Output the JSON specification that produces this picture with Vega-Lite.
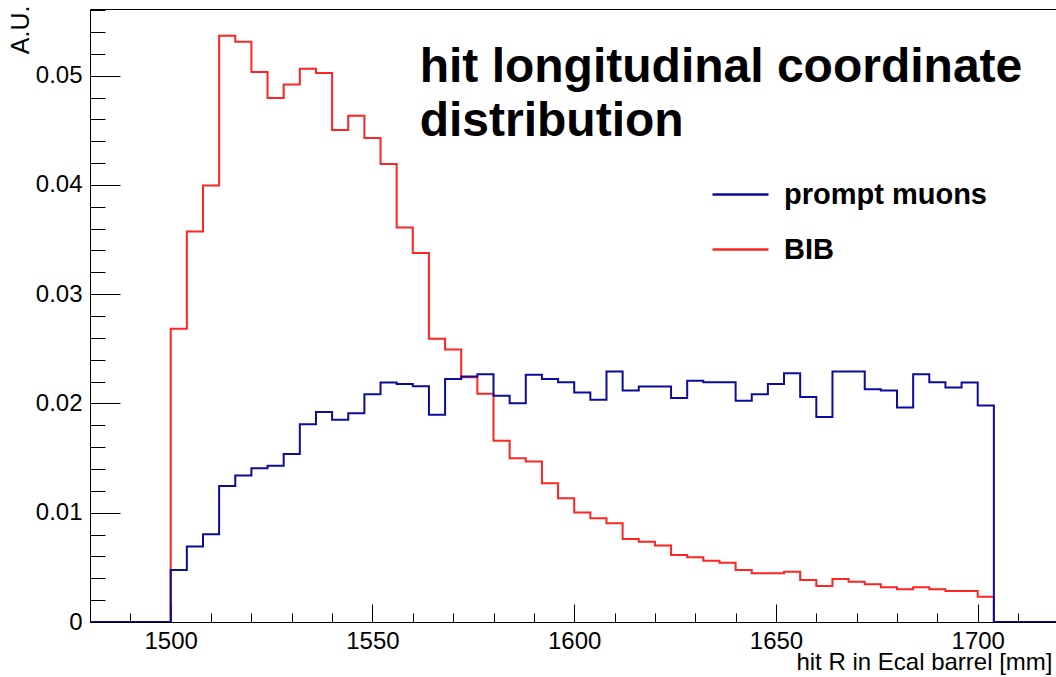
{
  "$schema": "https://vega.github.io/schema/vega-lite/v6.json",
  "width": 966,
  "height": 613,
  "autosize": {"type": "none"},
  "padding": {"left": 90, "top": 9, "right": 0, "bottom": 55},
  "background": "white",
  "config": {"view": {"stroke": null}, "font": "Liberation Sans"},
  "data": {"values": [
    {"s":"BIB","r":1480,"v":0},{"s":"BIB","r":1484,"v":0},{"s":"BIB","r":1488,"v":0},{"s":"BIB","r":1492,"v":0},{"s":"BIB","r":1496,"v":0},
    {"s":"BIB","r":1500,"v":0.02683},{"s":"BIB","r":1504,"v":0.03574},{"s":"BIB","r":1508,"v":0.03995},{"s":"BIB","r":1512,"v":0.05366},{"s":"BIB","r":1516,"v":0.05311},
    {"s":"BIB","r":1520,"v":0.05034},{"s":"BIB","r":1524,"v":0.04796},{"s":"BIB","r":1528,"v":0.04918},{"s":"BIB","r":1532,"v":0.05064},{"s":"BIB","r":1536,"v":0.05025},
    {"s":"BIB","r":1540,"v":0.04503},{"s":"BIB","r":1544,"v":0.04634},{"s":"BIB","r":1548,"v":0.04429},{"s":"BIB","r":1552,"v":0.04191},{"s":"BIB","r":1556,"v":0.03611},
    {"s":"BIB","r":1560,"v":0.03376},{"s":"BIB","r":1564,"v":0.02592},{"s":"BIB","r":1568,"v":0.02494},{"s":"BIB","r":1572,"v":0.02241},{"s":"BIB","r":1576,"v":0.02088},
    {"s":"BIB","r":1580,"v":0.01658},{"s":"BIB","r":1584,"v":0.01499},{"s":"BIB","r":1588,"v":0.01468},{"s":"BIB","r":1592,"v":0.0127},{"s":"BIB","r":1596,"v":0.01133},
    {"s":"BIB","r":1600,"v":0.01001},{"s":"BIB","r":1604,"v":0.0095},{"s":"BIB","r":1608,"v":0.00904},{"s":"BIB","r":1612,"v":0.0076},{"s":"BIB","r":1616,"v":0.00735},
    {"s":"BIB","r":1620,"v":0.00699},{"s":"BIB","r":1624,"v":0.00614},{"s":"BIB","r":1628,"v":0.00592},{"s":"BIB","r":1632,"v":0.00561},{"s":"BIB","r":1636,"v":0.00543},
    {"s":"BIB","r":1640,"v":0.00476},{"s":"BIB","r":1644,"v":0.00446},{"s":"BIB","r":1648,"v":0.00446},{"s":"BIB","r":1652,"v":0.00461},{"s":"BIB","r":1656,"v":0.00385},
    {"s":"BIB","r":1660,"v":0.0033},{"s":"BIB","r":1664,"v":0.00394},{"s":"BIB","r":1668,"v":0.00369},{"s":"BIB","r":1672,"v":0.00345},{"s":"BIB","r":1676,"v":0.00318},
    {"s":"BIB","r":1680,"v":0.00299},{"s":"BIB","r":1684,"v":0.00318},{"s":"BIB","r":1688,"v":0.00299},{"s":"BIB","r":1692,"v":0.00284},{"s":"BIB","r":1696,"v":0.00284},
    {"s":"BIB","r":1700,"v":0.00232},{"s":"BIB","r":1704,"v":0},{"s":"BIB","r":1708,"v":0},{"s":"BIB","r":1712,"v":0},{"s":"BIB","r":1716,"v":0},{"s":"BIB","r":1720,"v":0},
    {"s":"prompt muons","r":1480,"v":0},{"s":"prompt muons","r":1484,"v":0},{"s":"prompt muons","r":1488,"v":0},{"s":"prompt muons","r":1492,"v":0},{"s":"prompt muons","r":1496,"v":0},
    {"s":"prompt muons","r":1500,"v":0.00476},{"s":"prompt muons","r":1504,"v":0.0069},{"s":"prompt muons","r":1508,"v":0.00803},{"s":"prompt muons","r":1512,"v":0.01245},{"s":"prompt muons","r":1516,"v":0.0134},
    {"s":"prompt muons","r":1520,"v":0.01408},{"s":"prompt muons","r":1524,"v":0.01429},{"s":"prompt muons","r":1528,"v":0.01538},{"s":"prompt muons","r":1532,"v":0.0181},{"s":"prompt muons","r":1536,"v":0.01923},
    {"s":"prompt muons","r":1540,"v":0.0185},{"s":"prompt muons","r":1544,"v":0.01911},{"s":"prompt muons","r":1548,"v":0.02085},{"s":"prompt muons","r":1552,"v":0.02191},{"s":"prompt muons","r":1556,"v":0.02177},
    {"s":"prompt muons","r":1560,"v":0.02158},{"s":"prompt muons","r":1564,"v":0.01896},{"s":"prompt muons","r":1568,"v":0.02223},{"s":"prompt muons","r":1572,"v":0.02246},{"s":"prompt muons","r":1576,"v":0.02268},
    {"s":"prompt muons","r":1580,"v":0.0207},{"s":"prompt muons","r":1584,"v":0.02003},{"s":"prompt muons","r":1588,"v":0.02262},{"s":"prompt muons","r":1592,"v":0.02223},{"s":"prompt muons","r":1596,"v":0.02195},
    {"s":"prompt muons","r":1600,"v":0.021},{"s":"prompt muons","r":1604,"v":0.02033},{"s":"prompt muons","r":1608,"v":0.02292},{"s":"prompt muons","r":1612,"v":0.02118},{"s":"prompt muons","r":1616,"v":0.02155},
    {"s":"prompt muons","r":1620,"v":0.02155},{"s":"prompt muons","r":1624,"v":0.02049},{"s":"prompt muons","r":1628,"v":0.02207},{"s":"prompt muons","r":1632,"v":0.02193},{"s":"prompt muons","r":1636,"v":0.02195},
    {"s":"prompt muons","r":1640,"v":0.02024},{"s":"prompt muons","r":1644,"v":0.02085},{"s":"prompt muons","r":1648,"v":0.02177},{"s":"prompt muons","r":1652,"v":0.02277},{"s":"prompt muons","r":1656,"v":0.02058},
    {"s":"prompt muons","r":1660,"v":0.01875},{"s":"prompt muons","r":1664,"v":0.02292},{"s":"prompt muons","r":1668,"v":0.02292},{"s":"prompt muons","r":1672,"v":0.02131},{"s":"prompt muons","r":1676,"v":0.02118},
    {"s":"prompt muons","r":1680,"v":0.01962},{"s":"prompt muons","r":1684,"v":0.02268},{"s":"prompt muons","r":1688,"v":0.02195},{"s":"prompt muons","r":1692,"v":0.02146},{"s":"prompt muons","r":1696,"v":0.02191},
    {"s":"prompt muons","r":1700,"v":0.01981},{"s":"prompt muons","r":1704,"v":0},{"s":"prompt muons","r":1708,"v":0},{"s":"prompt muons","r":1712,"v":0},{"s":"prompt muons","r":1716,"v":0},{"s":"prompt muons","r":1720,"v":0}
  ]},
  "resolve": {"axis": {"x": "independent", "y": "independent"}},
  "layer": [
    {
      "transform": [{"filter": "datum.s === 'BIB'"}],
      "mark": {"type": "line", "interpolate": "step-after", "strokeWidth": 2, "clip": true},
      "encoding": {
        "x": {"field": "r", "type": "quantitative",
          "scale": {"domain": [1480, 1719.4], "nice": false, "zero": false},
          "axis": {"orient": "bottom", "grid": false,
            "values": [1480,1490,1500,1510,1520,1530,1540,1550,1560,1570,1580,1590,1600,1610,1620,1630,1640,1650,1660,1670,1680,1690,1700,1710],
            "format": "d",
            "labelExpr": "datum.value % 50 === 0 ? datum.label : ''",
            "tickSize": {"condition": {"test": "datum.value % 50 === 0", "value": -18}, "value": -9},
            "tickColor": "black", "tickWidth": 1,
            "domainColor": "black", "domainWidth": 1,
            "labelFont": "Liberation Sans", "labelFontSize": 24, "labelColor": "black",
            "labelPadding": 25, "labelFlush": false, "labelOverlap": false,
            "title": "hit R in Ecal barrel [mm]", "titleFont": "Liberation Sans", "titleFontSize": 24,
            "titleFontWeight": "normal", "titleColor": "black",
            "titleAnchor": "end", "titleAlign": "right", "titleX": 962, "titleY": 47, "titleBaseline": "alphabetic"}},
        "y": {"field": "v", "type": "quantitative",
          "scale": {"domain": [0, 0.0561], "nice": false},
          "axis": {"orient": "left", "grid": false,
            "values": [0,0.002,0.004,0.006,0.008,0.01,0.012,0.014,0.016,0.018,0.02,0.022,0.024,0.026,0.028,0.03,0.032,0.034,0.036,0.038,0.04,0.042,0.044,0.046,0.048,0.05,0.052,0.054,0.056],
            "format": ".2~f",
            "labelExpr": "round(datum.value * 1000) % 10 === 0 ? datum.label : ''",
            "tickSize": {"condition": {"test": "round(datum.value * 1000) % 10 === 0", "value": -30}, "value": -15},
            "tickColor": "black", "tickWidth": 1,
            "domainColor": "black", "domainWidth": 1,
            "labelFont": "Liberation Sans", "labelFontSize": 24, "labelColor": "black",
            "labelPadding": 38, "labelFlush": false, "labelOverlap": false,
            "title": "A.U.", "titleFont": "Liberation Sans", "titleFontSize": 25,
            "titleFontWeight": "normal", "titleColor": "black",
            "titleAnchor": "end", "titleAngle": 270, "titleAlign": "right", "titleBaseline": "bottom",
            "titleX": -57, "titleY": -4}},
        "color": {"field": "s", "type": "nominal",
          "scale": {"domain": ["prompt muons", "BIB"], "range": ["#0c0c9c", "#ff2424"]},
          "legend": {"orient": "none", "legendX": 621, "legendY": 156, "title": null, "padding": 0,
            "symbolType": "stroke", "symbolSize": 3136, "symbolStrokeWidth": 2.5,
            "labelFont": "Liberation Sans", "labelFontWeight": "bold", "labelFontSize": 29,
            "labelColor": "black", "labelOffset": 14, "labelLimit": 0, "rowPadding": 10}}
      }
    },
    {
      "transform": [{"filter": "datum.s === 'prompt muons'"}],
      "mark": {"type": "line", "interpolate": "step-after", "strokeWidth": 2, "clip": true},
      "encoding": {
        "x": {"field": "r", "type": "quantitative",
          "scale": {"domain": [1480, 1719.4], "nice": false, "zero": false},
          "axis": {"orient": "top", "grid": false, "labels": false, "ticks": false, "title": null,
            "domain": true, "domainColor": "black", "domainWidth": 1}},
        "y": {"field": "v", "type": "quantitative", "axis": null},
        "color": {"field": "s", "type": "nominal",
          "scale": {"domain": ["prompt muons", "BIB"], "range": ["#0c0c9c", "#ff2424"]},
          "legend": {"orient": "none", "legendX": 621, "legendY": 156, "title": null, "padding": 0,
            "symbolType": "stroke", "symbolSize": 3136, "symbolStrokeWidth": 2.5,
            "labelFont": "Liberation Sans", "labelFontWeight": "bold", "labelFontSize": 29,
            "labelColor": "black", "labelOffset": 14, "labelLimit": 0, "rowPadding": 10}}
      }
    },
    {
      "data": {"values": [{"t": "hit longitudinal coordinate distribution"}]},
      "mark": {"type": "text", "align": "left", "baseline": "alphabetic", "font": "Liberation Sans",
        "fontWeight": "bold", "fontSize": 48, "lineHeight": 54, "color": "black"},
      "encoding": {
        "x": {"datum": 1561.7, "type": "quantitative", "axis": null},
        "y": {"datum": 0.04945, "type": "quantitative", "axis": null},
        "text": {"value": ["hit longitudinal coordinate", "distribution"]}
      }
    }
  ]
}
